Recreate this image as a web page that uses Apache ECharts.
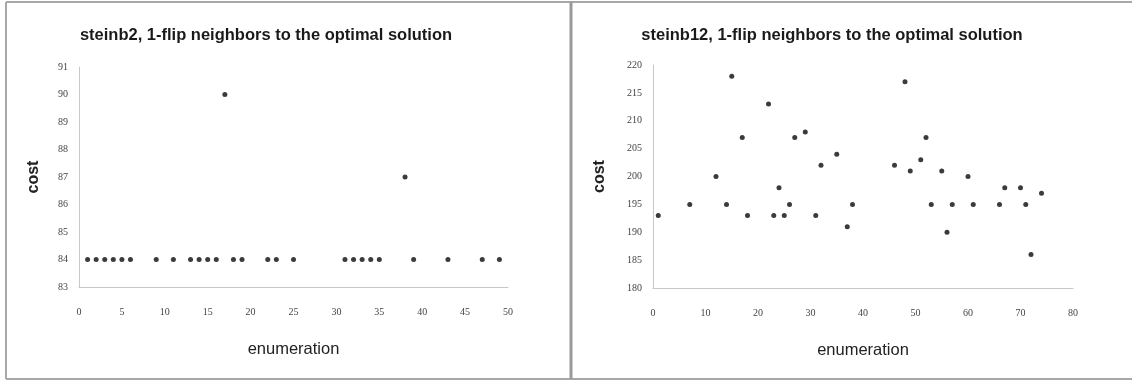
<!DOCTYPE html>
<html>
<head>
<meta charset="utf-8">
<script src="https://cdn.jsdelivr.net/npm/echarts@6/dist/echarts.min.js"></script>
<style>
html,body{margin:0;padding:0;background:#fff;}
#c{width:1132px;height:381px;}
</style>
</head>
<body>
<div id="c"></div>
<script>
// steinb2 data
const leftX = [1,2,3,4,5,6,9,11,13,14,15,16,17,18,19,22,23,25,31,32,33,34,35,38,39,43,47,49];
const leftY = [84,84,84,84,84,84,84,84,84,84,84,84,90,84,84,84,84,84,84,84,84,84,84,87,84,84,84,84];
// steinb12 data
const rightX = [1,7,12,14,15,17,18,22,23,24,25,26,27,29,31,32,35,37,38,46,48,49,51,52,53,55,56,57,60,61,66,67,70,71,72,74];
const rightY = [193,195,200,195,218,207,193,213,193,198,193,195,207,208,193,202,204,191,195,202,217,201,203,207,195,201,190,195,200,195,195,198,198,195,186,197];
const titles = ['steinb2, 1-flip neighbors to the optimal solution','steinb12, 1-flip neighbors to the optimal solution'];
const xName = 'enumeration';
const yName = 'cost';

const pair = (xs, ys) => xs.map((x, i) => [x, ys[i]]);
const tickLabel = {fontFamily:'Liberation Serif', fontSize:10, color:'#444'};
const axisLine = {show:true, lineStyle:{color:'#c8c8c8', width:1}};
const titleStyle = {fontFamily:'Liberation Sans', fontWeight:'bold', fontSize:16.5, color:'#1a1a1a'};

const chart = echarts.init(document.getElementById('c'));
chart.setOption({
  animation:false,
  backgroundColor:'#fff',
  title:[
    {text:titles[0], left:261, top:22, textAlign:'center', textStyle:titleStyle},
    {text:titles[1], left:827, top:22, textAlign:'center', textStyle:titleStyle}
  ],
  graphic:[
    {type:'line', shape:{x1:6, y1:2, x2:1132, y2:2}, style:{stroke:'#a8a8a8', lineWidth:2}},
    {type:'line', shape:{x1:6, y1:2, x2:6, y2:379}, style:{stroke:'#a8a8a8', lineWidth:2}},
    {type:'line', shape:{x1:6, y1:379, x2:1132, y2:379}, style:{stroke:'#a8a8a8', lineWidth:2}},
    {type:'line', shape:{x1:571, y1:2, x2:571, y2:379}, style:{stroke:'#9a9a9a', lineWidth:3}}
  ],
  grid:[
    {left:79, right:624, top:67, bottom:94},
    {left:653, right:59, top:65, bottom:93}
  ],
  xAxis:[
    {gridIndex:0, type:'value', min:0, max:50, interval:5, splitLine:{show:false},
     axisLine:axisLine, axisTick:{show:false}, axisLabel:Object.assign({margin:20}, tickLabel),
     name:xName, nameLocation:'middle', nameGap:54,
     nameTextStyle:{fontFamily:'Liberation Sans', fontSize:16.5, color:'#222'}},
    {gridIndex:1, type:'value', min:0, max:80, interval:10, splitLine:{show:false},
     axisLine:axisLine, axisTick:{show:false}, axisLabel:Object.assign({margin:20}, tickLabel),
     name:xName, nameLocation:'middle', nameGap:54,
     nameTextStyle:{fontFamily:'Liberation Sans', fontSize:16.5, color:'#222'}}
  ],
  yAxis:[
    {gridIndex:0, type:'value', min:83, max:91, interval:1, splitLine:{show:false},
     axisLine:axisLine, axisTick:{show:false}, axisLabel:Object.assign({margin:11}, tickLabel),
     name:yName, nameLocation:'middle', nameGap:37,
     nameTextStyle:{fontFamily:'Liberation Sans', fontWeight:'bold', fontSize:16, color:'#222'}},
    {gridIndex:1, type:'value', min:180, max:220, interval:5, splitLine:{show:false},
     axisLine:axisLine, axisTick:{show:false}, axisLabel:Object.assign({margin:11}, tickLabel),
     name:yName, nameLocation:'middle', nameGap:45,
     nameTextStyle:{fontFamily:'Liberation Sans', fontWeight:'bold', fontSize:16, color:'#222'}}
  ],
  series:[
    {type:'scatter', xAxisIndex:0, yAxisIndex:0, data:pair(leftX, leftY),
     symbolSize:5, itemStyle:{color:'#0a0a0a'}},
    {type:'scatter', xAxisIndex:1, yAxisIndex:1, data:pair(rightX, rightY),
     symbolSize:5, itemStyle:{color:'#0a0a0a'}}
  ]
});
</script>
</body>
</html>
